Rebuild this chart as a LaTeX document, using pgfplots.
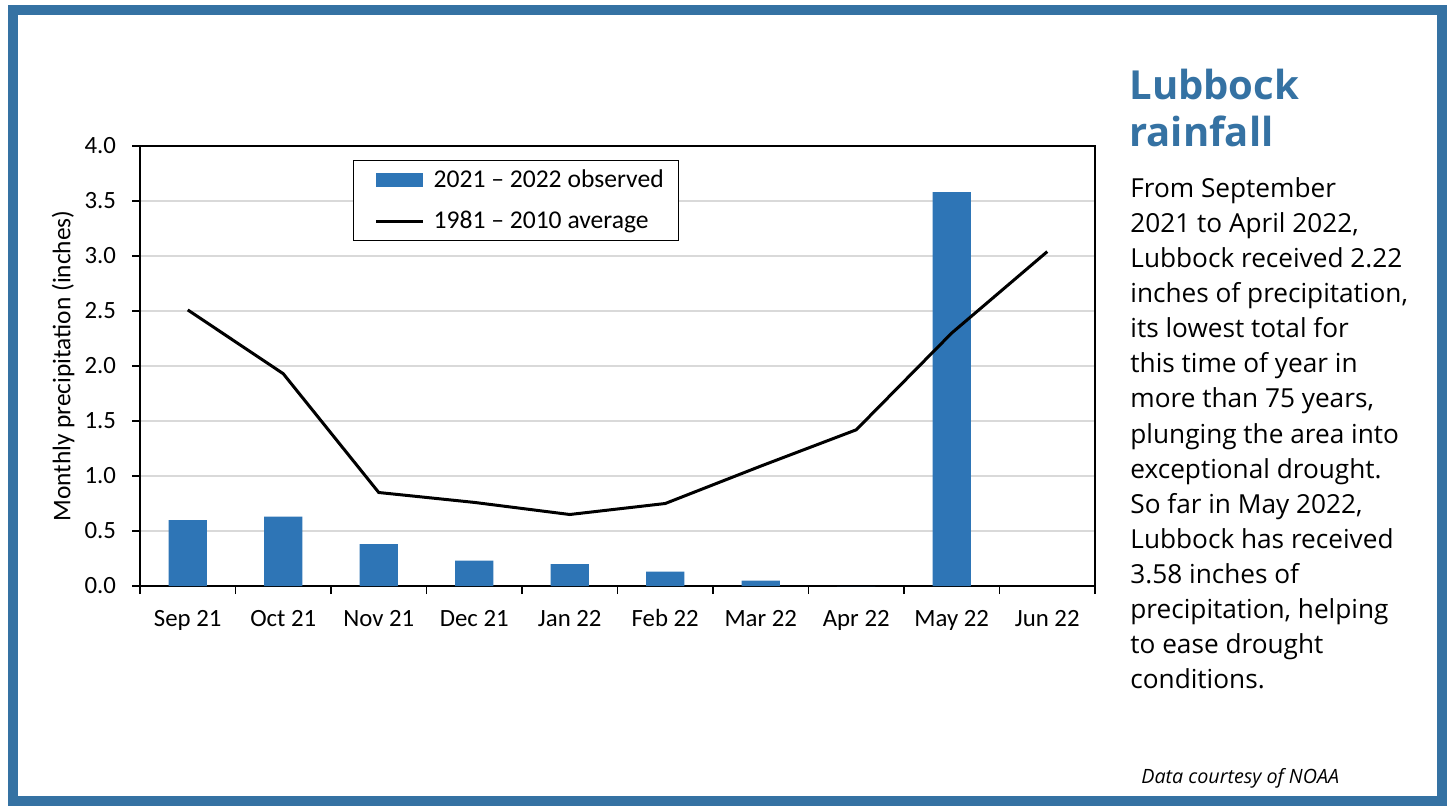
\documentclass[border=0pt]{standalone}
\usepackage{fontspec}
\setmainfont{Carlito}
\newfontfamily\sidefont{Open Sans}
\usepackage{pgfplots}
\pgfplotsset{compat=1.18}
\definecolor{frameblue}{RGB}{53,114,163}
\definecolor{barblue}{RGB}{46,117,182}
\definecolor{gridgray}{RGB}{217,217,217}
\begin{document}
\begin{tikzpicture}
\path[use as bounding box] (0,0) rectangle (725pt,-404pt);
\fill[white] (0,0) rectangle (725pt,-404pt);
\draw[frameblue, line width=5pt] (6.5pt,-5pt) rectangle (721pt,-400.5pt);
\begin{axis}[
  at={(70pt,-293pt)}, anchor=south west,
  scale only axis, width=477.5pt, height=220pt,
  xmin=-0.5, xmax=9.5, ymin=0, ymax=4,
  xtick={0,...,9},
  xticklabels={Sep 21,Oct 21,Nov 21,Dec 21,Jan 22,Feb 22,Mar 22,Apr 22,May 22,Jun 22},
  minor xtick={-0.5,0.5,...,9.5},
  ytick={0,0.5,...,4},
  major x tick style={draw=none},
  tick align=outside, xtick pos=bottom, ytick pos=left,
  major tick length=4pt, minor tick length=4pt,
  tick style={black, line width=0.75pt},
  axis line style={black, line width=0.75pt},
  ymajorgrids, grid style={gridgray, line width=0.75pt},
  ticklabel style={font=\fontsize{12.4}{14}\selectfont},
  xticklabel style={text height=8.5pt, text depth=2.5pt, yshift=-4pt},
  yticklabel style={/pgf/number format/.cd, fixed, fixed zerofill, precision=1, assume math mode=true, /tikz/.cd, xshift=-4.5pt},
  ylabel={Monthly precipitation (inches)},
  ylabel style={at={(axis description cs:-0.0806,0.5)}, anchor=center, font=\fontsize{12.7}{14}\selectfont},
  legend style={at={(axis description cs:0.223,0.968)}, anchor=north west, draw=black, line width=0.6pt,
    inner xsep=5.5pt, inner ysep=2.3pt, row sep=6.6pt, font=\fontsize{12.8}{14}\selectfont},
  legend cell align=left,
]
\addplot[ybar, bar width=0.4, fill=barblue, draw=none,
  legend image code/.code={\path (0pt,0pt) (31pt,0pt); \fill[barblue] (5pt,-3.5pt) rectangle (28.5pt,3.5pt);}]
  coordinates {(0,0.60) (1,0.63) (2,0.38) (3,0.23) (4,0.20) (5,0.13) (6,0.05) (7,0) (8,3.58)};
\addlegendentry{2021 -- 2022 observed}
\addplot[black, line width=1.5pt, mark=none, sharp plot,
  legend image code/.code={\path (0pt,0pt) (31pt,0pt); \draw[black, line width=1.5pt] (5pt,0pt) -- (28.5pt,0pt);}]
  coordinates {(0,2.51) (1,1.93) (2,0.85) (3,0.76) (4,0.65) (5,0.75) (6,1.09) (7,1.42) (8,2.30) (9,3.04)};
\addlegendentry{1981 -- 2010 average}
\end{axis}
\node[anchor=base west, inner sep=0, font=\sidefont\bfseries\fontsize{20}{23.5}\selectfont, text=frameblue] at (564.5pt,-50pt) {Lubbock};
\node[anchor=base west, inner sep=0, font=\sidefont\bfseries\fontsize{20}{23.5}\selectfont, text=frameblue] at (564.5pt,-73.5pt) {rainfall};
\node[anchor=north west, inner sep=0, align=left, font=\sidefont\fontsize{13.1}{17.55}\selectfont] at (565pt,-88.5pt) {From September\\2021 to April 2022,\\Lubbock received 2.22\\inches of precipitation,\\its lowest total for\\this time of year in\\more than 75 years,\\plunging the area into\\exceptional drought.\\So far in May 2022,\\Lubbock has received\\3.58 inches of\\precipitation, helping\\to ease drought\\conditions.};
\node[anchor=base west, inner sep=0, font=\sidefont\itshape\fontsize{9.85}{11}\selectfont] at (570.5pt,-391.5pt) {Data courtesy of NOAA};
\end{tikzpicture}
\end{document}
